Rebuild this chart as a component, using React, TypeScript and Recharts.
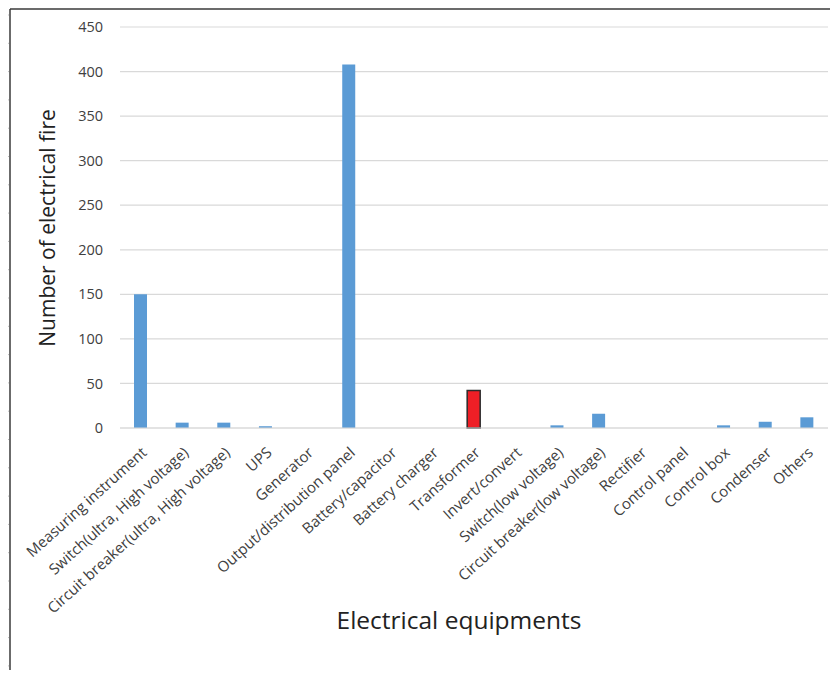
import React from "react";
import { BarChart, Bar, XAxis, YAxis, CartesianGrid, Cell, Label } from "recharts";

// Equipment categories along the x axis
const equipment = [
  "Measuring instrument",
  "Switch(ultra, High voltage)",
  "Circuit breaker(ultra, High voltage)",
  "UPS",
  "Generator",
  "Output/distribution panel",
  "Battery/capacitor",
  "Battery charger",
  "Transformer",
  "Invert/convert",
  "Switch(low voltage)",
  "Circuit breaker(low voltage)",
  "Rectifier",
  "Control panel",
  "Control box",
  "Condenser",
  "Others",
];

// Number of electrical fires per equipment type
const fireCounts = [150, 6, 6, 2, 0, 408, 0, 0, 42, 0, 3, 16, 0, 0, 3, 7, 12];

// Category drawn in the highlight colour
const highlighted = "Transformer";

const yTicks = [0, 50, 100, 150, 200, 250, 300, 350, 400, 450];

const data = equipment.map((name, i) => ({ name, fires: fireCounts[i] }));

const FONT = "'Open Sans', 'DejaVu Sans', sans-serif";
const BLUE = "#5b9bd5";
const RED = "#ee1f26";

const CategoryTick = (props: any) => {
  const { x, y, payload } = props;
  return (
    <g transform={`translate(${x + 7},${y + 18})`}>
      <text
        x={0}
        y={0}
        textAnchor="end"
        transform="rotate(-42)"
        fill="#404040"
        fontSize={15}
        fontFamily={FONT}
      >
        {payload.value}
      </text>
    </g>
  );
};

// Sheet frame with small ruler marks along the top and left edges
const Frame = () => {
  const left: number[] = [];
  for (let i = 0; i < 24; i++) left.push(15 + i * 28.3);
  const top: number[] = [];
  for (let i = 0; i < 9; i++) top.push(81 + i * 96);
  return (
    <svg
      width={838}
      height={678}
      style={{ position: "absolute", left: 0, top: 0, pointerEvents: "none" }}
    >
      {left.map((y, i) => (
        <line key={"l" + i} x1={6} x2={9} y1={y} y2={y} stroke="#bdbdbd" strokeWidth={1} />
      ))}
      {top.map((x, i) => (
        <line key={"t" + i} x1={x} x2={x} y1={5} y2={8} stroke="#bdbdbd" strokeWidth={1} />
      ))}
      <line x1={10} x2={838} y1={9} y2={9} stroke="#3a3a3a" strokeWidth={1.5} />
      <line x1={10} x2={10} y1={9} y2={678} stroke="#3a3a3a" strokeWidth={1.5} />
    </svg>
  );
};

export default function App() {
  return (
    <div style={{ position: "relative", width: 838, height: 678, margin: -8, background: "#fff" }}>
      <BarChart
        width={838}
        height={678}
        data={data}
        margin={{ top: 27, right: 10, bottom: 0, left: 0 }}
        barCategoryGap={0}
      >
        <CartesianGrid vertical={false} stroke="#d9d9d9" strokeWidth={1.2} />
        <XAxis
          dataKey="name"
          interval={0}
          height={250}
          tickLine={false}
          axisLine={{ stroke: "#d9d9d9", strokeWidth: 1.2 }}
          tick={<CategoryTick />}
        >
          <Label
            content={() => (
              <text
                x={459}
                y={620}
                dy="0.35em"
                textAnchor="middle"
                fill="#222"
                fontSize={24.5}
                fontFamily={FONT}
              >
                Electrical equipments
              </text>
            )}
          />
        </XAxis>
        <YAxis
          width={120}
          domain={[0, 450]}
          ticks={yTicks}
          interval={0}
          tickLine={false}
          axisLine={false}
          tickMargin={11}
          tick={{ fill: "#404040", fontSize: 14.5, fontFamily: FONT }}
        >
          <Label
            content={() => (
              <text
                x={48}
                y={228}
                dy="0.35em"
                textAnchor="middle"
                transform="rotate(-90 48 228)"
                fill="#222"
                fontSize={21}
                fontFamily={FONT}
              >
                Number of electrical fire
              </text>
            )}
          />
        </YAxis>
        <Bar dataKey="fires" barSize={13} isAnimationActive={false}>
          {data.map((d) => (
            <Cell
              key={d.name}
              fill={d.name === highlighted ? RED : BLUE}
              stroke={d.name === highlighted ? "#2b2b2b" : "none"}
              strokeWidth={d.name === highlighted ? 1.5 : 0}
            />
          ))}
        </Bar>
      </BarChart>
      <Frame />
    </div>
  );
}
